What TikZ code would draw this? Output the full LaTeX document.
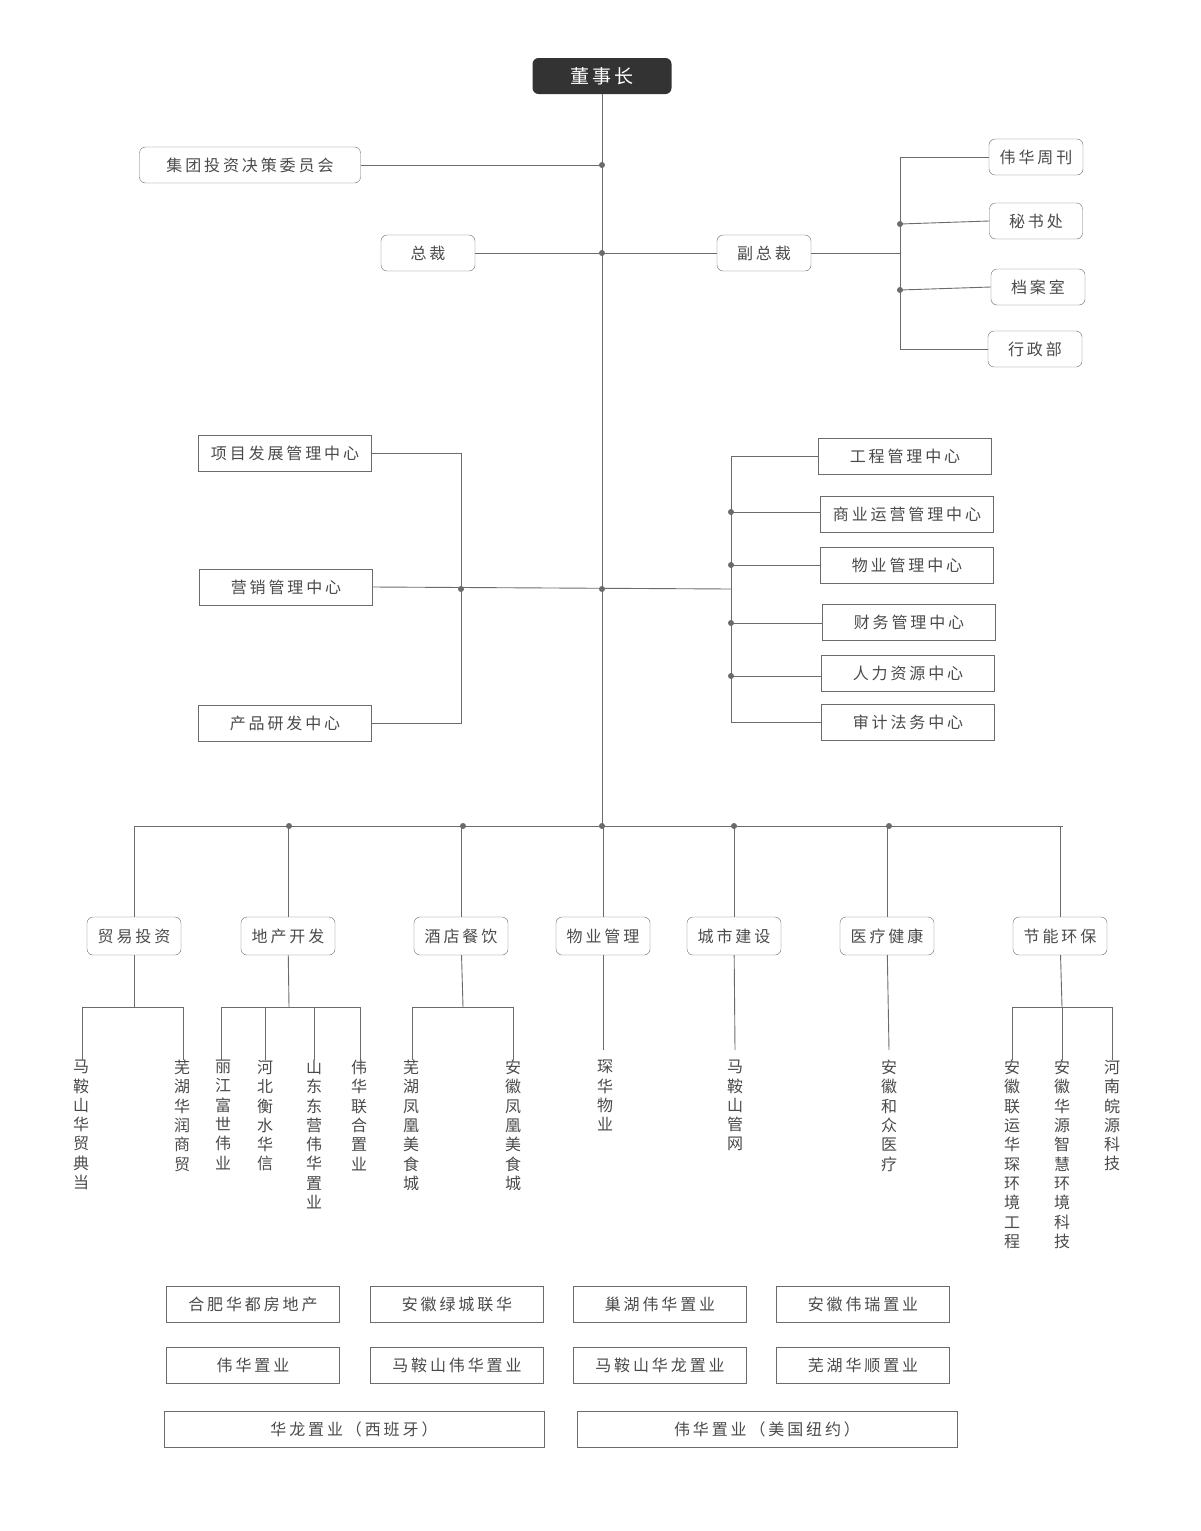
\documentclass[tikz,border=0pt]{standalone}
\usepackage{fontspec}
\setmainfont{Noto Sans CJK SC}[LetterSpace=18]
\usetikzlibrary{positioning}
\definecolor{linegray}{HTML}{6B6B6B}
\definecolor{textgray}{HTML}{4A4A4A}
\tikzset{
  rbox/.style={draw=linegray, rounded corners=6pt, text=textgray, minimum height=36pt, inner sep=0pt, font=\fontsize{16}{18}\selectfont},
  sbox/.style={draw=linegray, text=textgray, minimum height=36pt, inner sep=0pt, font=\fontsize{16}{18}\selectfont},
  vlabel/.style={anchor=north, align=center, inner sep=0pt, text=textgray, font=\fontsize{16}{19.3}\selectfont\addfontfeature{LetterSpace=0}},
  link/.style={draw=linegray, line width=0.9pt},
  jdot/.style={circle, fill=linegray, inner sep=0pt, minimum size=6pt}
}
\begin{document}
\begin{tikzpicture}[x=1pt,y=-1pt]
\useasboundingbox (0,0) rectangle (1200,1531);

\node (chair) [fill=black!80, rounded corners=6pt, text=white, minimum width=139pt, minimum height=36pt, font=\fontsize{19}{21}\selectfont] at (602,76) {董事长};
\node (invest) [rbox, minimum width=221pt] at (250,165) {集团投资决策委员会};
\node (pres) [rbox, minimum width=94pt] at (428,253) {总裁};
\node (vp) [rbox, minimum width=94pt] at (764,253) {副总裁};
\node (weekly) [rbox, minimum width=94pt] at (1036,157) {伟华周刊};
\node (secr) [rbox, minimum width=93pt] at (1036,221) {秘书处};
\node (archive) [rbox, minimum width=94pt] at (1038,287) {档案室};
\node (admin) [rbox, minimum width=94pt] at (1035,349) {行政部};

% main trunk
\coordinate (jinv) at (602,165);
\coordinate (jpres) at (602,253);
\coordinate (jctr) at (602,589);
\coordinate (jbus) at (602,826);
\draw[link] (chair) -- (jbus);
\draw[link] (invest) -- (jinv);
\draw[link] (pres) -- (vp);

% vice president branch
\coordinate (vtop) at (900,157);
\coordinate (vbot) at (900,349);
\coordinate (vmid) at (900,253);
\draw[link] (vp) -- (vmid);
\draw[link] (weekly) -- (vtop) -- (vbot) -- (admin);
\draw[link] (secr.west) -- (900,224);
\draw[link] (archive.west) -- (900,290);

% centres
\node (proj) [sbox, minimum width=173pt] at (285,453) {项目发展管理中心};
\node (mkt) [sbox, minimum width=173pt] at (286,587) {营销管理中心};
\node (prod) [sbox, minimum width=173pt] at (285,723) {产品研发中心};
\node (eng) [sbox, minimum width=173pt] at (905,456) {工程管理中心};
\node (comm) [sbox, minimum width=173pt] at (907,514) {商业运营管理中心};
\node (prop) [sbox, minimum width=173pt] at (907,565) {物业管理中心};
\node (fin) [sbox, minimum width=173pt] at (909,622) {财务管理中心};
\node (hr) [sbox, minimum width=173pt] at (908,673) {人力资源中心};
\node (audit) [sbox, minimum width=173pt] at (908,722) {审计法务中心};

\coordinate (ljct) at (461,589);
\coordinate (rjct) at (731,589);
\draw[link] (proj.east) -- (461,453) -- (461,723) -- (prod.east);
\draw[link] (mkt.east) -- (rjct);
\draw[link] (eng.west) -- (731,456) -- (731,722) -- (audit.west);
\foreach \n/\y in {comm/512, prop/565, fin/623, hr/676}
  \draw[link] (731,\y) -- (\n.west |- 0,\y);

% divisions
\draw[link] (134,826) -- (1063,826);
\foreach \n/\x/\t in {trade/134/贸易投资, estate/288/地产开发, hotel/461/酒店餐饮, pmgmt/603/物业管理, city/734/城市建设, med/887/医疗健康, green/1060/节能环保}{
  \node (\n) [rbox, minimum width=94pt, minimum height=38pt] at (\x,936) {\t};
  \draw[link] (\n) -- (\n |- 0,826);
}

% subsidiaries
\draw[link] (trade) -- (134,1007);
\draw[link] (82,1060) -- (82,1007) -- (183,1007) -- (183,1060);
\draw[link] (estate) -- (289,1007);
\draw[link] (221,1060) -- (221,1007) -- (360,1007) -- (360,1060);
\draw[link] (265,1007) -- (265,1060);
\draw[link] (314,1007) -- (314,1060);
\draw[link] (hotel) -- (463,1007);
\draw[link] (412,1060) -- (412,1007) -- (513,1007) -- (513,1060);
\draw[link] (pmgmt) -- (603,1050);
\draw[link] (city) -- (735,1050);
\draw[link] (med) -- (889,1050);
\draw[link] (green) -- (1062,1007);
\draw[link] (1012,1060) -- (1012,1007) -- (1112,1007) -- (1112,1060);
\draw[link] (1062,1007) -- (1062,1060);

\foreach \n/\x/\t in {
  s1/81/马\\鞍\\山\\华\\贸\\典\\当, s2/182/芜\\湖\\华\\润\\商\\贸,
  s3/223/丽\\江\\富\\世\\伟\\业, s4/265/河\\北\\衡\\水\\华\\信,
  s5/314/山\\东\\东\\营\\伟\\华\\置\\业, s6/359/伟\\华\\联\\合\\置\\业,
  s7/411/芜\\湖\\凤\\凰\\美\\食\\城, s8/513/安\\徽\\凤\\凰\\美\\食\\城,
  s9/605/琛\\华\\物\\业, s10/735/马\\鞍\\山\\管\\网, s11/889/安\\徽\\和\\众\\医\\疗,
  s12/1012/安\\徽\\联\\运\\华\\琛\\环\\境\\工\\程, s13/1062/安\\徽\\华\\源\\智\\慧\\环\\境\\科\\技,
  s14/1112/河\\南\\皖\\源\\科\\技}
  \node (\n) [vlabel] at (\x,1060) {\t};

% other companies
\foreach \n/\x/\y/\t in {
  b1/253/1304/合肥华都房地产, b2/457/1304/安徽绿城联华, b3/660/1304/巢湖伟华置业, b4/863/1304/安徽伟瑞置业,
  b5/253/1365/伟华置业, b6/457/1365/马鞍山伟华置业, b7/660/1365/马鞍山华龙置业, b8/863/1365/芜湖华顺置业}
  \node (\n) [sbox, minimum width=173pt] at (\x,\y) {\t};
\node (b9) [sbox, minimum width=380pt] at (354,1429) {华龙置业（西班牙）};
\node (b10) [sbox, minimum width=380pt] at (767,1429) {伟华置业（美国纽约）};

% junction dots
\foreach \p in {(602,165),(602,253),(602,589),(602,826),(900,224),(900,290),(461,589),(731,512),(731,565),(731,623),(731,676),(289,826),(463,826),(734,826),(889,826)}
  \node[jdot] at \p {};
\end{tikzpicture}
\end{document}
